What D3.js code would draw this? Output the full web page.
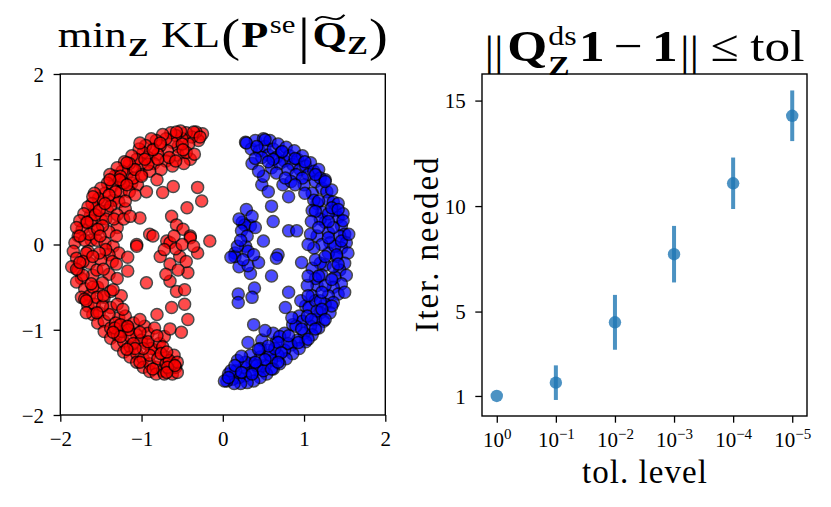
<!DOCTYPE html>
<html>
<head>
<meta charset="utf-8">
<script src="https://cdn.jsdelivr.net/npm/d3@7"></script>
<style>
  body { margin: 0; background: #fff; }
  text { font-family: "Liberation Serif", "DejaVu Serif", serif; fill: #000; }
</style>
</head>
<body>
<div id="chart"></div>
<script>
// ---- data ----
// left panel: embedding Z, two classes
const redPts = [
  [-0.25,1.30],[-0.30,1.22],[-0.33,1.32],[-0.38,1.26],[-0.42,1.18],[-0.45,1.31],[-0.50,1.24],[-0.52,1.33],[-0.55,1.15],[-0.58,1.28],
  [-0.62,1.20],[-0.64,1.31],[-0.68,1.10],[-0.70,1.24],[-0.74,1.29],[-0.77,1.16],[-0.80,1.06],[-0.82,1.22],[-0.86,1.12],[-0.88,1.24],
  [-0.92,1.02],[-0.95,1.16],[-0.98,1.08],[-1.00,0.95],[-1.03,1.12],[-1.06,1.00],[-1.10,0.88],[-1.12,1.04],[-1.15,0.95],[-1.18,0.82],
  [-1.21,0.97],[-1.24,0.86],[-1.27,0.74],[-1.30,0.90],[-1.33,0.80],[-1.36,0.68],[-1.39,0.82],[-1.42,0.72],[-1.45,0.60],[-1.47,0.50],
  [-1.50,0.66],[-1.53,0.54],[-1.56,0.42],[-1.58,0.60],[-1.61,0.48],[-1.63,0.34],[-1.66,0.44],[-1.68,0.26],[-1.71,0.36],[-1.73,0.18],
  [-1.76,0.28],[-1.78,0.10],[-1.80,0.20],[-1.82,0.02],[-1.84,-0.08],[-1.80,-0.16],[-1.86,-0.26],[-1.78,-0.30],[-1.74,-0.40],[-1.80,-0.44],
  [-1.70,-0.52],[-1.74,-0.62],[-1.64,-0.60],[-1.66,-0.72],[-1.58,-0.70],[-1.60,-0.82],[-1.52,-0.80],[-1.54,-0.92],[-1.46,-0.90],[-1.46,-1.02],
  [-1.38,-0.98],[-1.38,-1.10],[-1.30,-1.06],[-1.30,-1.18],[-1.22,-1.14],[-1.22,-1.26],[-1.14,-1.20],[-1.14,-1.32],[-1.06,-1.28],[-1.06,-1.38],
  [-0.98,-1.34],[-0.98,-1.44],[-0.90,-1.40],[-0.90,-1.49],[-0.82,-1.44],[-0.82,-1.52],[-0.74,-1.48],[-0.72,-1.52],[-0.66,-1.46],[-0.62,-1.52],
  [-0.58,-1.44],[-0.56,-1.50],
  [-0.55,1.05],[-0.70,0.98],[-0.85,0.95],[-1.00,0.82],[-1.12,0.72],[-1.25,0.62],[-1.35,0.52],[-1.42,0.40],[-1.50,0.30],[-1.58,0.18],
  [-1.62,0.05],[-1.66,-0.08],[-1.64,-0.22],[-1.60,-0.36],[-1.54,-0.50],[-1.46,-0.62],[-1.38,-0.74],[-1.28,-0.86],[-1.18,-0.96],[-1.06,-1.06],
  [-0.94,-1.16],[-0.82,-1.24],[-0.70,-1.32],[-0.62,-1.40],
  [-0.40,1.00],[-0.48,0.95],[-0.62,0.92],[-0.76,0.88],[-0.90,0.86],[-0.45,1.08],[-0.66,1.02],[-0.92,0.94],[-0.35,1.06],[-0.58,0.98],
  [-1.05,0.70],[-1.15,0.62],[-1.22,0.72],[-1.10,0.78],[-1.28,0.50],[-1.32,0.62],[-1.20,0.42],[-1.38,0.45],[-1.30,0.35],[-1.44,0.30],
  [-1.26,0.80],[-1.40,0.58],
  [-1.30,0.20],[-1.40,0.15],[-1.48,0.22],[-1.55,0.05],[-1.45,0.02],[-1.35,-0.02],[-1.28,-0.10],[-1.40,-0.12],[-1.50,-0.18],[-1.55,-0.30],
  [-1.40,-0.35],[-1.30,-0.40],[-1.48,-0.45],[-1.60,-0.50],[-1.38,-0.55],[-1.25,-0.60],[-1.55,-0.62],[-1.68,-0.10],[-1.70,0.05],[-1.62,0.28],
  [-1.30,-0.70],[-1.40,-0.82],[-1.20,-0.84],[-1.32,-0.92],[-1.10,-0.92],[-1.24,-1.02],[-1.14,-1.08],[-0.96,-0.96],[-1.00,-1.12],[-0.92,-1.04],
  [-1.10,-1.16],
  [-0.88,-1.22],[-0.78,-1.16],[-0.72,-1.08],[-0.90,-1.30],[-0.80,-1.34],[-0.70,-1.40],[-0.60,-1.30],[-0.74,-1.20],[-0.84,-0.98],[-0.98,-1.22],
  [-0.66,-1.36],[-0.56,-1.38],
  [-1.57,0.35],[-1.52,0.40],[-1.70,-0.64],[-1.62,-0.46],[-1.33,-0.98],[-1.26,-0.94],[-1.27,0.76],[-1.18,0.70],[-1.45,0.48],[-1.64,0.12],
  [-1.72,-0.20],[-1.48,-0.72],[-1.16,-1.00],[-0.92,-1.14],[-0.76,-1.28],[-0.96,1.00],[-0.80,1.00],[-0.50,1.18],[-1.08,0.88],[-1.36,-0.20],
  [-1.44,-0.06],[-1.72,-0.36],[-1.52,-0.10],[-1.34,0.30],[-0.68,-1.44],[-1.08,-1.22],[-1.26,-1.08],[-1.54,0.18],[-1.22,0.30],[-1.08,0.58],
  [-0.94,0.62],[-0.74,0.61],[-0.61,0.68],[-0.31,0.67],[-0.26,0.51],[-0.44,0.43],[-0.63,0.33],[-0.57,0.23],[-0.49,0.18],[-0.40,0.10],
  [-0.16,0.04],[-0.69,0.04],[-0.90,0.12],[-1.06,0.00],[-1.02,0.31],[-1.14,0.33],[-1.20,0.51],[-0.81,0.76],[-1.00,0.80],[-1.17,-0.31],
  [-1.17,-0.15],[-1.06,-0.02],[-1.31,-0.23],[-0.94,-0.45],[-0.65,-0.43],[-0.57,-0.55],[-0.47,-0.53],[-0.43,-0.33],[-0.31,-0.10],[-0.40,0.08],
  [-0.65,0.02],[-0.77,-0.14],[-0.65,-0.23],[-0.53,-0.14],[-0.86,0.10],[-0.47,-0.70],[-0.63,-0.74],[-0.81,-0.82],[-1.02,-0.88],[-0.43,-0.88],
  [-0.51,-1.03],[-0.65,-0.99],[-1.17,-0.96],[-1.02,-1.03],[-0.81,-1.07],[-0.69,-1.26],[-1.23,-0.76],[-1.35,-0.53],[-1.47,-0.60],
  [-0.58,-0.05],[-0.50,0.00],[-0.60,0.10],[-0.72,-0.06],[-0.45,-0.20],[-0.55,-0.30],[-0.70,-0.35],[-0.36,-0.02],
  [-1.76,0.10],[-1.80,-0.29],[-1.68,-0.66],[-1.68,-0.80],[-1.55,-0.80],[-1.35,-1.03],[-1.18,-1.23],[-1.02,-1.38],[-0.86,-1.46],[-0.69,-1.50],
  [-0.59,-1.42],[-1.51,0.10],[-1.31,0.10],[-1.60,-0.14],[-1.76,-0.21],[-1.47,-0.29],[-1.60,0.56],[-1.67,0.26],[-1.39,0.76],[-1.18,0.96],
  [-1.02,1.19],[-0.86,1.11],[-0.77,1.19],[-0.49,1.11],[-0.57,1.32],[-0.36,1.32],[-0.28,1.26]
];
const bluePts = [
  [0.28,1.20],[0.35,1.12],[0.40,1.22],[0.45,1.10],[0.50,1.24],[0.52,1.15],[0.56,1.05],[0.58,1.22],[0.62,1.12],[0.66,1.02],
  [0.68,1.18],[0.72,1.08],[0.76,0.98],[0.78,1.14],[0.82,1.04],[0.86,0.94],[0.88,1.10],[0.92,1.00],[0.95,0.88],[0.98,1.04],
  [1.02,0.92],[1.05,0.82],[1.08,0.96],[1.12,0.86],[1.14,0.74],[1.18,0.88],[1.20,0.78],[1.22,0.66],[1.26,0.76],[1.28,0.62],
  [1.30,0.52],[1.34,0.64],[1.36,0.50],[1.38,0.40],[1.42,0.48],[1.42,0.32],[1.46,0.22],[1.48,0.36],[1.50,0.12],[1.44,0.10],
  [1.52,0.02],[1.46,-0.04],[1.54,-0.10],[1.40,-0.14],[1.50,-0.22],[1.44,-0.30],[1.52,-0.36],[1.38,-0.38],[1.46,-0.46],[1.36,-0.50],
  [1.42,-0.58],[1.30,-0.60],[1.36,-0.68],[1.26,-0.70],[1.32,-0.80],[1.20,-0.80],[1.24,-0.90],[1.14,-0.88],[1.18,-0.98],[1.08,-0.96],
  [1.10,-1.06],[1.00,-1.04],[1.02,-1.14],[0.92,-1.12],[0.94,-1.22],[0.84,-1.18],[0.86,-1.28],[0.76,-1.24],[0.78,-1.34],[0.68,-1.30],
  [0.70,-1.40],[0.60,-1.36],[0.62,-1.46],[0.52,-1.42],[0.54,-1.52],[0.44,-1.46],[0.46,-1.56],[0.36,-1.50],[0.38,-1.60],[0.28,-1.54],
  [0.30,-1.62],[0.20,-1.56],[0.22,-1.63],[0.12,-1.58],[0.14,-1.63],[0.05,-1.60],[0.07,-1.52],[0.02,-1.60],
  [1.00,0.70],[1.10,0.60],[1.16,0.48],[1.22,0.38],[1.26,0.26],[1.30,0.14],[1.32,0.02],[1.30,-0.10],[1.26,-0.24],[1.22,-0.36],
  [1.16,-0.48],[1.10,-0.60],[1.02,-0.72],[0.94,-0.84],[0.86,-0.94],[0.76,-1.04],[0.66,-1.14],[0.56,-1.24],[0.46,-1.32],[0.36,-1.40],
  [0.26,-1.44],[0.16,-1.48],
  [0.60,0.90],[0.70,0.95],[0.80,0.88],[0.90,0.82],[0.66,0.84],[0.98,0.78],[0.74,0.70],[0.84,0.74],
  [1.12,0.52],[1.20,0.30],[1.10,0.40],[1.16,0.10],[1.22,0.00],[1.12,-0.04],[1.20,-0.22],[1.10,-0.28],[1.14,-0.40],[1.26,-0.48],
  [1.04,-0.48],[1.36,0.20],[1.38,-0.02],[1.36,-0.26],[1.30,0.36],[1.08,0.12],
  [0.96,-0.66],[1.06,-0.74],[1.14,-0.66],[0.98,-0.90],[1.04,-0.84],[0.90,-0.96],[1.16,-0.78],[1.20,-0.66],
  [0.62,-1.04],[0.70,-1.08],[0.48,-1.12],[0.58,-1.30],[0.46,-1.22],[0.34,-1.30],[0.28,-1.38],[0.42,-1.42],[0.18,-1.36],[0.10,-1.48],
  [0.64,-1.22],[0.80,-1.16],[0.50,-1.48],
  [0.24,0.26],[0.34,0.22],[0.28,-0.02],[0.20,-0.26],[0.34,-0.34],[0.48,0.70],[0.50,0.80],[0.36,0.95],[0.48,1.02],[0.62,1.00],
  [1.40,-0.12],[1.48,0.28],
  [0.29,1.19],[0.52,1.23],[0.42,1.15],[0.40,1.01],[0.44,0.86],[0.56,0.97],[0.73,1.09],[0.89,1.01],[1.01,0.97],[1.14,0.82],
  [1.26,0.74],[0.89,0.70],[0.77,0.78],[0.56,0.62],[0.60,0.45],[0.81,0.56],[1.01,0.60],[1.18,0.51],[1.34,0.43],[1.42,0.41],
  [1.14,0.39],[1.09,0.27],[1.30,0.27],[1.18,0.20],[1.30,0.08],[1.46,0.04],[1.55,0.12],[1.05,0.00],[0.62,0.27],[0.81,0.16],
  [0.91,0.16],[0.29,0.41],[0.36,0.33],[0.27,0.23],[0.40,0.20],[0.23,0.16],[0.50,0.04],[0.15,-0.10],[0.31,-0.08],[0.68,-0.12],
  [0.15,-0.14],[0.31,-0.25],[0.44,-0.21],[0.60,-0.37],[0.66,-0.16],[0.39,-0.51],[0.19,-0.58],[0.19,-0.68],[0.36,-0.62],[0.81,-0.56],
  [0.77,-0.74],[0.85,-0.86],[0.38,-0.94],[0.52,-1.01],[0.97,-0.21],[1.14,-0.18],[1.26,-0.14],[1.42,-0.23],[1.05,-0.37],[1.18,-0.37],
  [1.34,-0.41],[1.50,-0.56],[1.22,-0.56],[1.05,-0.60],[1.34,-0.72],[1.22,-0.76],[1.09,-0.88],[1.26,-0.88],[0.97,-0.99],[1.14,-0.99],
  [0.81,-1.07],[0.93,-1.15],[0.68,-1.15],[0.56,-1.19],[0.72,-1.27],[0.44,-1.23],[0.31,-1.15],[0.23,-1.31],[0.52,-1.35],[0.40,-1.38],
  [0.15,-1.42],[0.23,-1.50],[0.36,-1.52],[0.07,-1.56],[0.60,-1.46],[0.68,-1.38],[1.05,-1.11],
  [0.20,0.30],[0.30,0.10],[0.18,-0.02],[0.25,-0.18],[0.38,-0.12],[0.10,-0.15],[0.22,0.05]
];
const scatterTicks = [-2, -1, 0, 1, 2];

// right panel: iterations needed per tolerance level
const tolExponents = [0, -1, -2, -3, -4, -5];
const iterMean = [1.0, 1.63, 4.49, 7.72, 11.08, 14.28];
const iterErr = [0.0, 0.82, 1.30, 1.34, 1.22, 1.20];
const iterTicks = [1, 5, 10, 15];

// ---- layout ----
const W = 831, H = 507;
const tickLen = 6.7, tickFont = 21;
const minus = s => String(s).replace("-", "\u2212");

const svg = d3.select("#chart").append("svg")
    .attr("width", W)
    .attr("height", H)
    .attr("viewBox", [0, 0, W, H]);

// left axes
const xL = d3.scaleLinear().domain([-2, 2]).range([60.3, 385.3]);
const yL = d3.scaleLinear().domain([-2, 2]).range([415, 74]);
// right axes
const xR = d3.scaleLinear().domain([-0.25, 5.25]).range([482, 807]);
const yR = d3.scaleLinear().domain([0.05, 16.26]).range([416, 74]);

function styleAxis(g) {
    g.select(".domain").remove();
    g.selectAll(".tick line").attr("stroke", "#000").attr("stroke-width", 1.3);
    g.selectAll(".tick text")
        .attr("font-family", '"Liberation Serif", serif')
        .attr("font-size", tickFont)
        .attr("fill", "#000");
}

function frame(x, y) {
    svg.append("rect")
        .attr("x", x.range()[0]).attr("y", y.range()[1])
        .attr("width", x.range()[1] - x.range()[0])
        .attr("height", y.range()[0] - y.range()[1])
        .attr("fill", "none")
        .attr("stroke", "#000")
        .attr("stroke-width", 1.4);
}

// ---- left: scatter ----
const gL = svg.append("g");
[[redPts, "#ff0000"], [bluePts, "#0000ff"]].forEach(([pts, col]) => {
    gL.append("g").selectAll("circle")
        .data(pts)
        .enter()
        .append("circle")
        .attr("cx", d => xL(d[0]))
        .attr("cy", d => yL(d[1]))
        .attr("r", 6)
        .attr("fill", col)
        .attr("stroke", "#000")
        .attr("stroke-width", 1.5)
        .attr("opacity", 0.7);
});

svg.append("g")
    .attr("transform", `translate(0,${yL.range()[0]})`)
    .call(d3.axisBottom(xL).tickValues(scatterTicks).tickSize(tickLen).tickPadding(9.5).tickFormat(minus))
    .call(styleAxis);
svg.append("g")
    .attr("transform", `translate(${xL.range()[0]},0)`)
    .call(d3.axisLeft(yL).tickValues(scatterTicks).tickSize(tickLen).tickPadding(9.6).tickFormat(minus))
    .call(styleAxis)
    .call(g => g.selectAll(".tick text").attr("dy", "0.35em"));
frame(xL, yL);

// ---- right: error bars ----
const blue = "#1f77b4";
const gR = svg.append("g");
gR.selectAll("line.err")
    .data(iterMean)
    .enter()
    .append("line")
    .attr("class", "err")
    .attr("x1", (d, i) => xR(i))
    .attr("x2", (d, i) => xR(i))
    .attr("y1", (d, i) => yR(d - iterErr[i]))
    .attr("y2", (d, i) => yR(d + iterErr[i]))
    .attr("stroke", blue)
    .attr("stroke-width", 4)
    .attr("opacity", 0.8);
gR.selectAll("circle")
    .data(iterMean)
    .enter()
    .append("circle")
    .attr("cx", (d, i) => xR(i))
    .attr("cy", d => yR(d))
    .attr("r", 6.2)
    .attr("fill", blue)
    .attr("opacity", 0.8);

svg.append("g")
    .attr("transform", `translate(0,${yR.range()[0]})`)
    .call(d3.axisBottom(xR).tickValues(d3.range(tolExponents.length)).tickSize(tickLen).tickPadding(9.5).tickFormat(() => ""))
    .call(styleAxis)
    .call(g => g.selectAll(".tick text").each(function (d) {
        const t = d3.select(this);
        t.append("tspan").text("10");
        t.append("tspan").attr("dy", -8.5).attr("font-size", 15).text(minus(tolExponents[d]));
    }));
svg.append("g")
    .attr("transform", `translate(${xR.range()[0]},0)`)
    .call(d3.axisLeft(yR).tickValues(iterTicks).tickSize(tickLen).tickPadding(9.6))
    .call(styleAxis)
    .call(g => g.selectAll(".tick text").attr("dy", "0.35em"));
frame(xR, yR);

svg.append("text")
    .attr("x", (xR.range()[0] + xR.range()[1]) / 2)
    .attr("y", 483)
    .attr("text-anchor", "middle")
    .attr("font-size", 33)
    .attr("textLength", 125)
    .attr("lengthAdjust", "spacing")
    .text("tol. level");
svg.append("text")
    .attr("transform", `translate(438,${(yR.range()[0] + yR.range()[1]) / 2}) rotate(-90)`)
    .attr("text-anchor", "middle")
    .attr("font-size", 33)
    .attr("textLength", 175)
    .attr("lengthAdjust", "spacing")
    .text("Iter. needed");

// ---- titles: small hand layout of the LaTeX pieces, stretched to the reference width ----
function mathTitle(cx, baseline, targetW, pieces) {
    const g = svg.append("g");
    let x = 0, prevStart = 0, prevEnd = 0;
    const placed = [];
    pieces.forEach(p => {
        const t = g.append("text")
            .attr("font-size", p.s)
            .attr("font-weight", p.b ? "bold" : "normal")
            .attr("y", baseline + (p.dy || 0))
            .text(p.t);
        const w = t.node().getComputedTextLength();
        const start = p.stack ? prevStart : x + (p.gap || 0);
        t.attr("x", start);
        const end = start + w;
        x = p.stack ? Math.max(prevEnd, end) : end;
        prevStart = start;
        prevEnd = end;
        placed.push({ p, start, w });
    });
    g.attr("transform", `translate(${cx - targetW / 2},0) scale(${targetW / x},1)`);
    placed.filter(d => d.p.tilde).forEach(d => {
        const x0 = d.start + d.w * 0.08, x1 = d.start + d.w * 0.92, w = x1 - x0;
        const yb = baseline - d.p.s * 0.8;
        g.append("path")
            .attr("d", `M${x0},${yb + 2} C${x0 + w * 0.3},${yb - 9} ${x0 + w * 0.65},${yb + 8} ${x1},${yb - 4}`)
            .attr("fill", "none")
            .attr("stroke", "#000")
            .attr("stroke-width", 1.8);
    });
}

mathTitle((xL.range()[0] + xL.range()[1]) / 2, 47.5, 330, [
    { t: "min", s: 36 },
    { t: "Z", s: 25, b: 1, dy: 9, gap: 1 },
    { t: "KL", s: 36, gap: 10 },
    { t: "(", s: 46, dy: 4, gap: 1 },
    { t: "P", s: 36, b: 1, gap: 1 },
    { t: "se", s: 25, dy: -14, gap: 1 },
    { t: "|", s: 50, dy: 6, gap: 2 },
    { t: "Q", s: 36, b: 1, gap: 2, tilde: 1 },
    { t: "Z", s: 25, b: 1, dy: 7 },
    { t: ")", s: 46, dy: 4, gap: 1 }
]);

mathTitle((xR.range()[0] + xR.range()[1]) / 2, 61, 320, [
    { t: "|", s: 42, dy: 4 },
    { t: "|", s: 42, dy: 4, gap: 0 },
    { t: "Q", s: 45, b: 1, gap: 3 },
    { t: "ds", s: 28, dy: -16, gap: 1 },
    { t: "Z", s: 28, b: 1, dy: 14, stack: 1 },
    { t: "1", s: 45, b: 1, gap: 2 },
    { t: "\u2212", s: 45, gap: 8 },
    { t: "1", s: 45, b: 1, gap: 8 },
    { t: "|", s: 42, dy: 4, gap: 2 },
    { t: "|", s: 42, dy: 4, gap: 0 },
    { t: "\u2264", s: 45, gap: 10 },
    { t: "tol", s: 45, gap: 10 }
]);
</script>
</body>
</html>
